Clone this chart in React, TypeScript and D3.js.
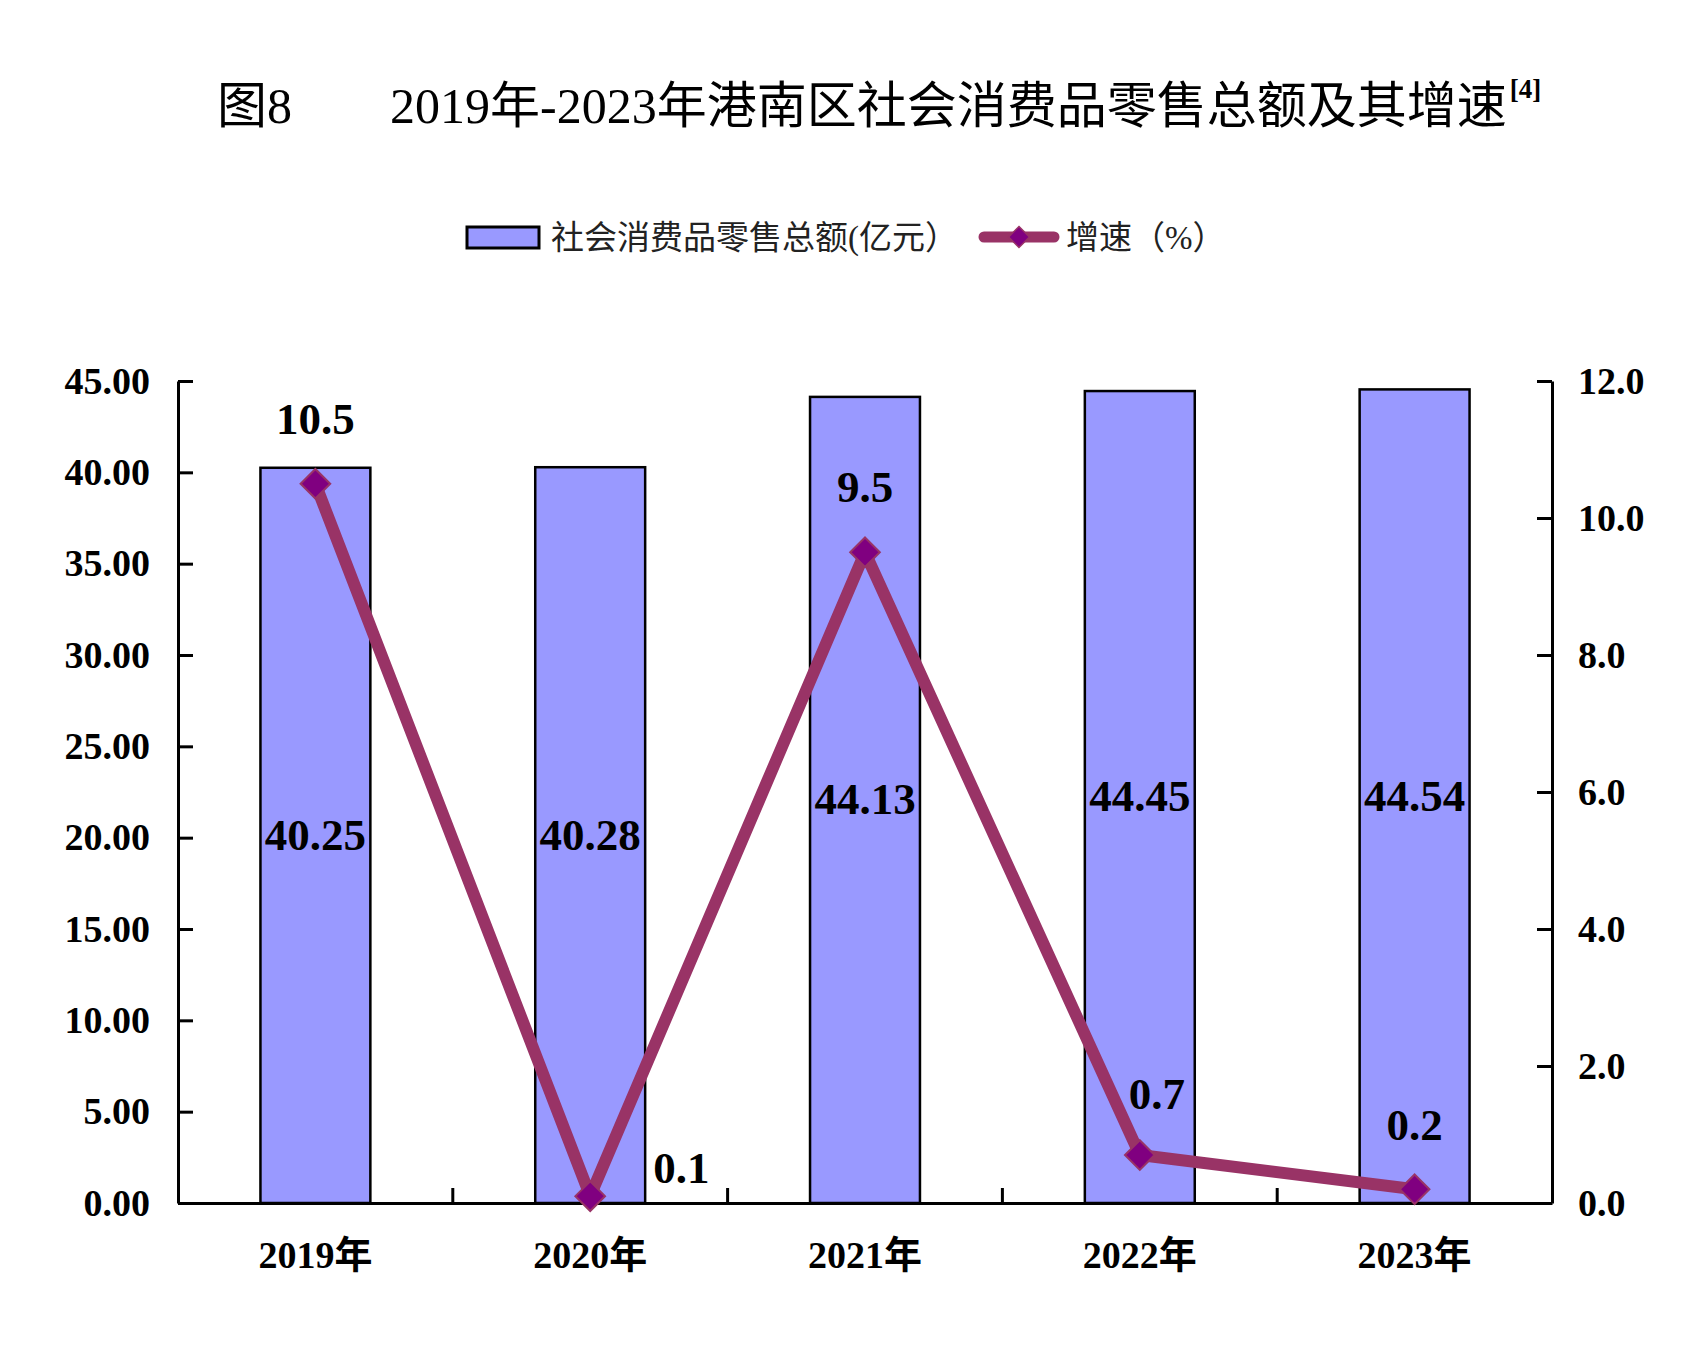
import * as d3 from "d3";
import { useEffect, useRef } from "react";

const years = ["2019年", "2020年", "2021年", "2022年", "2023年"];
const retailSales = [40.25, 40.28, 44.13, 44.45, 44.54];
const growthRate = [10.5, 0.1, 9.5, 0.7, 0.2];
const leftTicks = [0, 5, 10, 15, 20, 25, 30, 35, 40, 45];
const rightTicks = [0, 2, 4, 6, 8, 10, 12];

// where each growth label sits relative to its marker
const rateLabelOffsets = [
  { dx: 0, dy: -50, anchor: "middle" },
  { dx: 63, dy: -13, anchor: "start" },
  { dx: 0, dy: -50, anchor: "middle" },
  { dx: 17, dy: -46, anchor: "middle" },
  { dx: 0, dy: -49, anchor: "middle" },
];

const titleText = "2019年-2023年港南区社会消费品零售总额及其增速";
const barLegend = "社会消费品零售总额(亿元）";
const lineLegend = "增速（%）";

const SERIF = '"Times New Roman", "Liberation Serif", "Noto Sans CJK SC", serif';
const BAR_FILL = "#9999FF";
const LINE_COLOR = "#993366";
const MARKER_FILL = "#800080";

const App = () => {
  const ref = useRef<SVGSVGElement>(null);
  const width = 1693;
  const height = 1361;

  useEffect(() => {
    const margin = { top: 381, right: 141, bottom: 158, left: 178 };
    const svg = d3.select(ref.current);
    svg.selectAll("*").remove();

    const x = d3
      .scaleBand()
      .domain(years)
      .range([margin.left, width - margin.right])
      .paddingInner(0.6)
      .paddingOuter(0.3);
    const band = d3
      .scaleBand()
      .domain(years)
      .range([margin.left, width - margin.right]);

    const yLeft = d3
      .scaleLinear()
      .domain([0, 45])
      .range([height - margin.bottom, margin.top]);
    const yRight = d3
      .scaleLinear()
      .domain([0, 12])
      .range([height - margin.bottom, margin.top]);

    // title
    const title = svg
      .append("text")
      .attr("y", 123)
      .attr("font-family", SERIF)
      .attr("font-size", 50);
    title.append("tspan").attr("x", 217).text("图8");
    title.append("tspan").attr("x", 390).text(titleText);
    title
      .append("tspan")
      .attr("font-size", 27)
      .attr("font-weight", "bold")
      .attr("dx", 3)
      .attr("dy", -25)
      .text("[4]");

    // legend
    const lg = svg.append("g");
    lg.append("rect")
      .attr("x", 467)
      .attr("y", 227)
      .attr("width", 72)
      .attr("height", 21)
      .attr("fill", BAR_FILL)
      .attr("stroke", "#000")
      .attr("stroke-width", 3);
    lg.append("text")
      .attr("x", 551)
      .attr("y", 238)
      .attr("dominant-baseline", "central")
      .attr("font-family", SERIF)
      .attr("font-size", 33)
      .attr("fill", "#222")
      .text(barLegend);
    lg.append("line")
      .attr("x1", 984)
      .attr("x2", 1054)
      .attr("y1", 237)
      .attr("y2", 237)
      .attr("stroke", LINE_COLOR)
      .attr("stroke-width", 11)
      .attr("stroke-linecap", "round");
    lg.append("path")
      .attr("transform", "translate(1019,237)")
      .attr("d", d3.symbol(d3.symbolDiamond2, 280)()!)
      .attr("fill", MARKER_FILL)
      .attr("stroke", LINE_COLOR)
      .attr("stroke-width", 1.5);
    lg.append("text")
      .attr("x", 1066)
      .attr("y", 238)
      .attr("dominant-baseline", "central")
      .attr("font-family", SERIF)
      .attr("font-size", 33)
      .attr("fill", "#222")
      .text(lineLegend);

    // bars
    svg
      .append("g")
      .selectAll("rect")
      .data(retailSales)
      .join("rect")
      .attr("x", (_, i) => x(years[i])!)
      .attr("y", (d) => yLeft(d))
      .attr("width", x.bandwidth())
      .attr("height", (d) => yLeft(0) - yLeft(d))
      .attr("fill", BAR_FILL)
      .attr("stroke", "#000")
      .attr("stroke-width", 2.5);

    // Left axis
    const gl = svg
      .append("g")
      .attr("transform", `translate(${margin.left},0)`)
      .call(
        d3
          .axisLeft(yLeft)
          .tickValues(leftTicks)
          .tickFormat(d3.format(".2f"))
          .tickSizeInner(-15)
          .tickSizeOuter(0)
          .tickPadding(28)
      );

    // Right axis
    const gr = svg
      .append("g")
      .attr("transform", `translate(${width - margin.right},0)`)
      .call(
        d3
          .axisRight(yRight)
          .tickValues(rightTicks)
          .tickFormat(d3.format(".1f"))
          .tickSizeInner(-15)
          .tickSizeOuter(0)
          .tickPadding(26)
      );

    // Bottom axis: labels at centres, ticks on band edges
    const gb = svg
      .append("g")
      .attr("transform", `translate(0,${height - margin.bottom})`)
      .call(d3.axisBottom(band).tickSize(0).tickPadding(38));
    gb.append("g")
      .selectAll("line")
      .data(years.slice(1))
      .join("line")
      .attr("x1", (d) => band(d)!)
      .attr("x2", (d) => band(d)!)
      .attr("y1", 0)
      .attr("y2", -15)
      .attr("stroke", "#000")
      .attr("stroke-width", 2.5);

    [gl, gr, gb].forEach((g) => {
      g.attr("font-family", SERIF).attr("font-size", 38);
      g.selectAll("text").attr("font-weight", "bold").attr("fill", "#000");
      g.selectAll("path.domain, line").attr("stroke-width", 3);
    });

    // bar value labels
    svg
      .append("g")
      .selectAll("text")
      .data(retailSales)
      .join("text")
      .attr("x", (_, i) => x(years[i])! + x.bandwidth() / 2)
      .attr("y", (d) => yLeft(d / 2))
      .attr("dy", "0.32em")
      .attr("text-anchor", "middle")
      .attr("font-family", SERIF)
      .attr("font-size", 45)
      .attr("font-weight", "bold")
      .text((d) => d3.format(".2f")(d));

    // growth line
    const cx = (i: number) => band(years[i])! + band.bandwidth() / 2;
    const line = d3
      .line<number>()
      .x((_, i) => cx(i))
      .y((d) => yRight(d));
    svg
      .append("path")
      .datum(growthRate)
      .attr("d", line)
      .attr("fill", "none")
      .attr("stroke", LINE_COLOR)
      .attr("stroke-width", 12)
      .attr("stroke-linejoin", "round");

    svg
      .append("g")
      .selectAll("path")
      .data(growthRate)
      .join("path")
      .attr("transform", (d, i) => `translate(${cx(i)},${yRight(d)})`)
      .attr("d", d3.symbol(d3.symbolDiamond2, 560)()!)
      .attr("fill", MARKER_FILL)
      .attr("stroke", LINE_COLOR)
      .attr("stroke-width", 2);

    svg
      .append("g")
      .selectAll("text")
      .data(growthRate)
      .join("text")
      .attr("x", (_, i) => cx(i) + rateLabelOffsets[i].dx)
      .attr("y", (d, i) => yRight(d) + rateLabelOffsets[i].dy)
      .attr("text-anchor", (_, i) => rateLabelOffsets[i].anchor)
      .attr("font-family", SERIF)
      .attr("font-size", 45)
      .attr("font-weight", "bold")
      .text((d) => d3.format(".1f")(d));
  }, []);

  return (
    <svg
      ref={ref}
      width={width}
      height={height}
      viewBox={`0 0 ${width} ${height}`}
      style={{ position: "absolute", left: 0, top: 0, background: "#fff" }}
    ></svg>
  );
};

export default App;
